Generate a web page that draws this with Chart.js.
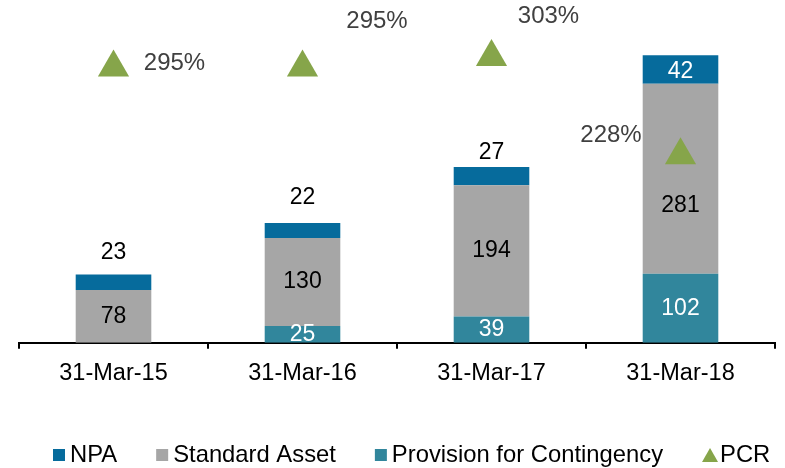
<!DOCTYPE html>
<html>
<head>
<meta charset="utf-8">
<script src="https://cdn.jsdelivr.net/npm/chart.js@4.4.1/dist/chart.umd.min.js"></script>
<style>
html, body { margin: 0; padding: 0; background: #fff; overflow: hidden; }
canvas { display: block; }
</style>
</head>
<body>
<canvas id="chart" width="785" height="468"></canvas>
<script>
const categories = ['31-Mar-15', '31-Mar-16', '31-Mar-17', '31-Mar-18'];
const provision = [0, 25, 39, 102];
const standardAsset = [78, 130, 194, 281];
const npa = [23, 22, 27, 42];
const pcr = [295, 295, 303, 228];

const FONT = '"Liberation Sans", Arial, sans-serif';
const colors = {
	npa: '#066b9c',
	standard: '#a6a6a6',
	provision: '#31869c',
	pcr: '#86a54a',
};

// label placement tweaks (pixels), one per category
const npaLabelShift = [[0, -30], [0, -33], [0, -23], [0, 2]];
const standardLabelShift = [[0, 0], [0, 0], [0, 0], [0, 27]];
const pcrLabelShift = [[61, -4], [74.5, -46], [57, -41], [-69.5, -20]];

const legendItems = [
	{ text: 'NPA', color: colors.npa, marker: 'rect' },
	{ text: 'Standard Asset', color: colors.standard, marker: 'rect' },
	{ text: 'Provision for Contingency', color: colors.provision, marker: 'rect' },
	{ text: 'PCR', color: colors.pcr, marker: 'triangle' },
];

const valueLabels = {
	id: 'valueLabels',
	afterDatasetsDraw(chart) {
		const { ctx } = chart;
		ctx.save();
		ctx.textAlign = 'center';
		ctx.textBaseline = 'middle';
		chart.data.datasets.forEach((dataset, di) => {
			const meta = chart.getDatasetMeta(di);
			meta.data.forEach((el, i) => {
				const value = dataset.data[i];
				if (!value) {
					return;
				}
				const [dx, dy] = dataset.labelShift[i];
				const y = dataset.type === 'bar' ? (el.y + el.base) / 2 : el.y;
				ctx.font = `${dataset.labelSize}px ${FONT}`;
				ctx.fillStyle = dataset.labelColors[i];
				ctx.fillText(value + (dataset.labelSuffix || ''), el.x + dx, y + dy);
			});
		});
		ctx.restore();
	}
};

const bottomLegend = {
	id: 'bottomLegend',
	afterDraw(chart) {
		const { ctx } = chart;
		const y = 455;
		let x = 53;
		ctx.save();
		ctx.font = `23.8px ${FONT}`;
		ctx.textBaseline = 'middle';
		ctx.textAlign = 'left';
		legendItems.forEach((item) => {
			ctx.fillStyle = item.color;
			if (item.marker === 'triangle') {
				ctx.beginPath();
				ctx.moveTo(x + 8, y - 7);
				ctx.lineTo(x + 16, y + 7);
				ctx.lineTo(x, y + 7);
				ctx.closePath();
				ctx.fill();
				x += 18;
			} else {
				ctx.fillRect(x, y - 6, 12, 12);
				x += 17;
			}
			ctx.fillStyle = '#000';
			ctx.fillText(item.text, x, y);
			x += ctx.measureText(item.text).width + 39;
		});
		ctx.restore();
	}
};

new Chart(document.getElementById('chart'), {
	data: {
		labels: categories,
		datasets: [
			{
				type: 'line',
				label: 'PCR',
				data: pcr,
				yAxisID: 'y2',
				showLine: false,
				pointStyle: 'triangle',
				pointRadius: 18,
				pointHoverRadius: 18,
				pointBorderWidth: 0,
				pointBackgroundColor: colors.pcr,
				borderColor: colors.pcr,
				order: 0,
				labelSize: 24,
				labelSuffix: '%',
				labelColors: ['#404040', '#404040', '#404040', '#404040'],
				labelShift: pcrLabelShift,
			},
			{
				type: 'bar',
				label: 'Provision for Contingency',
				data: provision,
				backgroundColor: colors.provision,
				order: 1,
				labelSize: 23,
				labelColors: ['#fff', '#fff', '#fff', '#fff'],
				labelShift: [[0, 0], [0, 0], [0, 0], [0, 0]],
			},
			{
				type: 'bar',
				label: 'Standard Asset',
				data: standardAsset,
				backgroundColor: colors.standard,
				order: 1,
				labelSize: 23,
				labelColors: ['#000', '#000', '#000', '#000'],
				labelShift: standardLabelShift,
			},
			{
				type: 'bar',
				label: 'NPA',
				data: npa,
				backgroundColor: colors.npa,
				order: 1,
				labelSize: 23,
				labelColors: ['#000', '#000', '#000', '#fff'],
				labelShift: npaLabelShift,
			},
		]
	},
	options: {
		responsive: false,
		animation: false,
		devicePixelRatio: 1,
		layout: { autoPadding: false, padding: { left: 19, right: 10, top: 10, bottom: 69 } },
		datasets: {
			bar: { barPercentage: 0.4, categoryPercentage: 1.0, borderWidth: 0 },
		},
		plugins: {
			legend: { display: false },
			tooltip: { enabled: false },
		},
		scales: {
			x: {
				stacked: true,
				offset: true,
				grid: { offset: true, drawOnChartArea: false, color: '#000', lineWidth: 2, tickLength: 6 },
				border: { display: true, color: '#000', width: 2 },
				ticks: { color: '#000', font: { family: FONT, size: 23.5 }, padding: 11 },
			},
			y: { stacked: true, display: false, min: 0, max: 492 },
			y2: { display: false, position: 'right', min: 84.8, max: 338.9 },
		}
	},
	plugins: [valueLabels, bottomLegend],
});
</script>
</body>
</html>
